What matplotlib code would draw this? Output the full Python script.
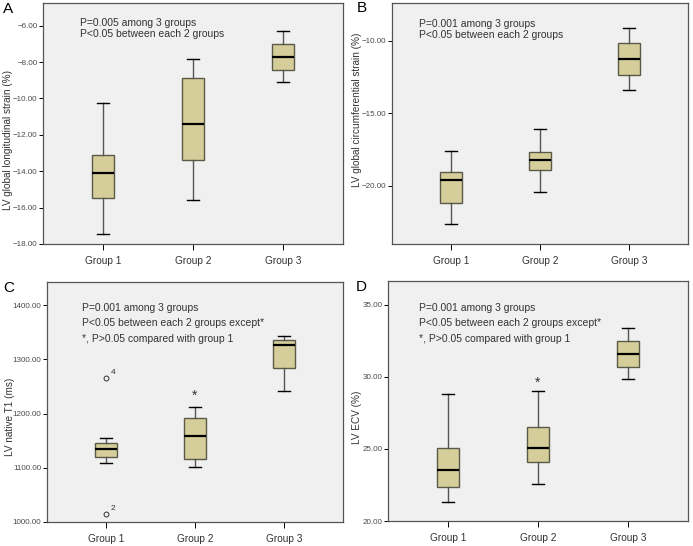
import matplotlib.pyplot as plt
from matplotlib.ticker import FuncFormatter

plt.rcParams['font.family'] = ['Liberation Sans', 'DejaVu Sans']

groups = ['Group 1', 'Group 2', 'Group 3']

# A: LV global longitudinal strain
a_lo = [-17.47, -15.6, -9.1]
a_q1 = [-15.49, -13.4, -8.41]
a_med = [-14.08, -11.4, -7.71]
a_q3 = [-13.09, -8.85, -7.0]
a_hi = [-10.25, -7.82, -6.29]

# B: LV global circumferential strain
b_lo = [-22.63, -20.41, -13.41]
b_q1 = [-21.2, -18.94, -12.35]
b_med = [-19.63, -18.25, -11.29]
b_q3 = [-19.07, -17.7, -10.19]
b_hi = [-17.58, -16.1, -9.12]

# C: LV native T1
c_lo = [1109, 1101, 1241]
c_q1 = [1119, 1117, 1284]
c_med = [1135, 1158, 1327]
c_q3 = [1145, 1191, 1335]
c_hi = [1155, 1213, 1343]
c_fliers = [[1266, 1015], [], []]
c_flier_ids = [['4', '2'], [], []]

# D: LV ECV
d_lo = [21.35, 22.55, 29.81]
d_q1 = [22.35, 24.09, 30.69]
d_med = [23.52, 25.03, 31.6]
d_q3 = [25.06, 26.52, 32.48]
d_hi = [28.78, 29.0, 33.37]

fill = '#d5cd9a'
edge = '#5b5a48'
txt = '#333333'
W, H = 693.0, 546.0


def make_stats(lo, q1, med, q3, hi, fliers=None):
    out = []
    for i in range(len(lo)):
        out.append(dict(whislo=lo[i], q1=q1[i], med=med[i], q3=q3[i], whishi=hi[i],
                        fliers=(fliers[i] if fliers else [])))
    return out


def panel(box_px, stats, ylim, yticks, ylabel, label_px, letter, letter_px, notes, note_x, note_y):
    # box_px: left, top, right, bottom in pixels from the top-left corner
    l, t, r, b = box_px
    ax = fig.add_axes([l / W, 1 - b / H, (r - l) / W, (b - t) / H])
    ax.set_facecolor('#f0f0f0')
    ax.bxp(stats, positions=[1, 2, 3], widths=0.25, capwidths=0.13, patch_artist=True,
           boxprops=dict(facecolor=fill, edgecolor=edge, linewidth=1.0),
           medianprops=dict(color='black', linewidth=1.6),
           whiskerprops=dict(color='#555555', linewidth=1.0),
           capprops=dict(color='black', linewidth=1.0),
           flierprops=dict(marker='o', markersize=3.5, markerfacecolor='none',
                           markeredgecolor='#333333', markeredgewidth=0.7))
    ax.set_xlim(0.333, 3.667)
    ax.set_ylim(*ylim)
    ax.set_yticks(yticks)
    ax.yaxis.set_major_formatter(FuncFormatter(lambda v, p: ('%.2f' % v).replace('-', '\u2212')))
    ax.set_xticks([1, 2, 3])
    ax.set_xticklabels(groups, fontsize=7.3, color=txt)
    ax.tick_params(axis='y', labelsize=5.8, labelcolor='#4a4a4a', length=3, width=0.7, pad=1)
    ax.tick_params(axis='x', length=4, width=0.7, pad=4.5)
    for s in ax.spines.values():
        s.set_color('#555555')
        s.set_linewidth(0.9)
    ax.set_ylabel(ylabel, fontsize=7.2, color=txt)
    ax.yaxis.set_label_coords(label_px[0] / W, 1 - label_px[1] / H, transform=fig.transFigure)
    ax.yaxis.label.set_va('center')
    for i, line in enumerate(notes):
        ax.text(note_x, note_y[i], line, transform=ax.transAxes, fontsize=7.5,
                color=txt, va='center', ha='left')
    fig.text(letter_px[0] / W, 1 - letter_px[1] / H, letter, fontsize=11, color='black',
             ha='center', va='center')
    return ax


fig = plt.figure(figsize=(6.93, 5.46), dpi=100)

axA = panel((43, 3, 343, 244), make_stats(a_lo, a_q1, a_med, a_q3, a_hi),
            (-18, -4.75), [-18, -16, -14, -12, -10, -8, -6],
            'LV global longitudinal strain (%)', (8, 140), 'A', (8, 9),
            ['P=0.005 among 3 groups', 'P<0.05 between each 2 groups'], 0.123, [0.917, 0.871])

axB = panel((392, 3, 688, 244), make_stats(b_lo, b_q1, b_med, b_q3, b_hi),
            (-24.03, -7.4), [-20, -15, -10],
            'LV global circumferential strain (%)', (357, 110), 'B', (362, 8),
            ['P=0.001 among 3 groups', 'P<0.05 between each 2 groups'], 0.09, [0.913, 0.867])

axC = panel((47, 282, 343, 522), make_stats(c_lo, c_q1, c_med, c_q3, c_hi, c_fliers),
            (1000, 1442.7), [1000, 1100, 1200, 1300, 1400],
            'LV native T1 (ms)', (10, 417), 'C', (9, 288),
            ['P=0.001 among 3 groups', 'P<0.05 between each 2 groups except*',
             '*, P>0.05 compared with group 1'], 0.117, [0.893, 0.831, 0.764])
for i, (vals, ids) in enumerate(zip(c_fliers, c_flier_ids)):
    for v, label in zip(vals, ids):
        axC.annotate(label, (i + 1, v), xytext=(3, 3), textcoords='offset points',
                     fontsize=6, color=txt)
axC.text(2, c_hi[1] + 6, '*', fontsize=10, color=txt, ha='center', va='bottom')

axD = panel((388, 281, 688, 521), make_stats(d_lo, d_q1, d_med, d_q3, d_hi),
            (20, 36.63), [20, 25, 30, 35],
            'LV ECV (%)', (357, 417), 'D', (361, 287),
            ['P=0.001 among 3 groups', 'P<0.05 between each 2 groups except*',
             '*, P>0.05 compared with group 1'], 0.103, [0.889, 0.826, 0.757])
axD.text(2, d_hi[1] + 0.1, '*', fontsize=10, color=txt, ha='center', va='bottom')

fig.savefig('out.png', dpi=100)
